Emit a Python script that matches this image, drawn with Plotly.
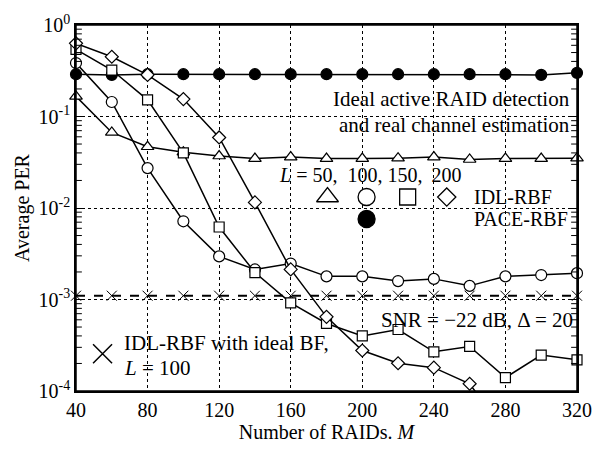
import math
import plotly.graph_objects as go

# ---- data ----
M = [40, 60, 80, 100, 120, 140, 160, 180, 200, 220, 240, 260, 280, 300, 320]
per_L50 = [0.166, 0.067, 0.0467, 0.0407, 0.037, 0.0347, 0.036, 0.0347, 0.0347, 0.035, 0.036, 0.0339, 0.0347, 0.0347, 0.035]
per_L100 = [0.384, 0.144, 0.0273, 0.00716, 0.00296, 0.00213, 0.00247, 0.00179, 0.00179, 0.00159, 0.00168, 0.00141, 0.00179, 0.00185, 0.00194]
per_L150 = [0.542, 0.322, 0.152, 0.0401, 0.0062, 0.00197, 0.00092, 0.000547, 0.0004, 0.00047, 0.000268, 0.000307, 0.00014, 0.000247, 0.000219]
per_L200 = [0.63, 0.45, 0.285, 0.155, 0.059, 0.0115, 0.00213, 0.000646, 0.000277, 0.000201, 0.00018, 0.00012, 0.000035, None, None]
per_pace = [0.29, 0.285, 0.29, 0.29, 0.29, 0.29, 0.29, 0.29, 0.29, 0.29, 0.29, 0.29, 0.29, 0.285, 0.30]
per_ideal_bf = [0.0011] * 15

x_ticks = [40, 80, 120, 160, 200, 240, 280, 320]
y_tickvals = [1e-4, 1e-3, 1e-2, 1e-1, 1]
y_ticktext = ["10<sup>-4</sup>", "10<sup>-3</sup>", "10<sup>-2</sup>", "10<sup>-1</sup>", "10<sup>0</sup>"]
y_minor = [m * 10 ** e for e in range(-4, 0) for m in range(2, 10)]

X_RANGE = (40, 320)
LOG_RANGE = (-4, 0)
Y_MIN = 10 ** LOG_RANGE[0]
FONT = "Liberation Serif, Times New Roman, serif"
fig = go.Figure()

def to_x(fx):
    return X_RANGE[0] + (X_RANGE[1] - X_RANGE[0]) * fx

def to_y(fy):
    return 10 ** (LOG_RANGE[0] + (LOG_RANGE[1] - LOG_RANGE[0]) * fy)

def series(y, symbol, size, color="white", dash="solid", lw=1.5, mlw=1.2):
    fig.add_trace(go.Scatter(x=M, y=y, mode="lines", connectgaps=False,
                             line=dict(color="black", width=lw, dash=dash),
                             showlegend=False))
    pts = [(m, v) for m, v in zip(M, y) if v is not None and v >= Y_MIN]
    fig.add_trace(go.Scatter(x=[p[0] for p in pts], y=[p[1] for p in pts], mode="markers",
                             cliponaxis=False,
                             marker=dict(symbol=symbol, size=size, color=color,
                                         line=dict(color="black", width=mlw)),
                             showlegend=False))

series(per_ideal_bf, "x-thin", 10, color="black", dash="dash", lw=2, mlw=1)
series(per_pace, "circle", 11, color="black")
series(per_L50, "triangle-up", 11)
series(per_L100, "circle", 11)
series(per_L150, "square", 10)
series(per_L200, "diamond", 10)

# ---- legend keys (positions given as fractions of the plot area) ----
def key(fx, fy, symbol, size, color="white", lw=1.3):
    fig.add_trace(go.Scatter(x=[to_x(fx)], y=[to_y(fy)], mode="markers", cliponaxis=False,
                             marker=dict(symbol=symbol, size=size, color=color,
                                         line=dict(color="black", width=lw)),
                             showlegend=False))

for fx, sym, sz in zip([0.502, 0.580, 0.662, 0.740],
                       ["triangle-up", "circle", "square", "diamond"], [19, 17, 16, 14]):
    key(fx, 0.53, sym, sz)
key(0.580, 0.47, "circle", 17, color="black")
key(0.053, 0.102, "x-thin", 19, color="black", lw=1.5)

axis_common = dict(showline=True, linecolor="black", linewidth=1.5, mirror="allticks",
                   showgrid=True, gridcolor="black", gridwidth=1, griddash="dot",
                   zeroline=False, tickfont=dict(family=FONT, size=20, color="black"))

fig.update_layout(
    width=604, height=449,
    margin=dict(l=76, r=16, t=24, b=42),
    paper_bgcolor="white", plot_bgcolor="white",
    font=dict(family=FONT, color="black"),
    xaxis=dict(range=list(X_RANGE), tickvals=x_ticks, ticks="",
               title=dict(text="Number of RAIDs. <i>M</i>", font=dict(family=FONT, size=20), standoff=2),
               **axis_common),
    yaxis=dict(type="log", range=list(LOG_RANGE), tickvals=y_tickvals, ticktext=y_ticktext,
               ticks="inside", ticklen=8, tickcolor="black", tickwidth=1,
               title=dict(text="Average PER", font=dict(family=FONT, size=20), standoff=4),
               **axis_common),
)

# frame and minor log ticks, drawn in paper coordinates
fig.add_shape(type="rect", xref="paper", yref="paper", x0=0, x1=1, y0=0, y1=1,
              line=dict(color="black", width=1.5))
TICK = 6 / 512
for v in y_minor:
    fy = (math.log10(v) - LOG_RANGE[0]) / (LOG_RANGE[1] - LOG_RANGE[0])
    for a, b in ((0, TICK), (1 - TICK, 1)):
        fig.add_shape(type="line", xref="paper", yref="paper",
                      x0=a, x1=b, y0=fy, y1=fy, line=dict(color="black", width=1))

def note(text, x, y, xanchor="left", size=20):
    fig.add_annotation(text=text, x=x, y=y, xref="paper", yref="paper",
                       xanchor=xanchor, yanchor="middle", showarrow=False,
                       font=dict(family=FONT, size=size, color="black"))

note("Ideal active RAID detection", 0.99, 0.799, xanchor="right", size=21)
note("and real channel estimation", 0.99, 0.728, xanchor="right", size=21)
note("<i>L</i> = 50,\u2002100, 150, \u2009200", 0.402, 0.59)
note("IDL-RBF", 0.790, 0.53)
note("PACE-RBF", 0.790, 0.47)
note("SNR = \u221222 dB, \u0394 = 20", 0.604, 0.195, size=21)
note("IDL-RBF with ideal BF,", 0.092, 0.13, size=21)
note("<i>L</i> = 100", 0.092, 0.063, size=21)

fig.write_html("out.html")
